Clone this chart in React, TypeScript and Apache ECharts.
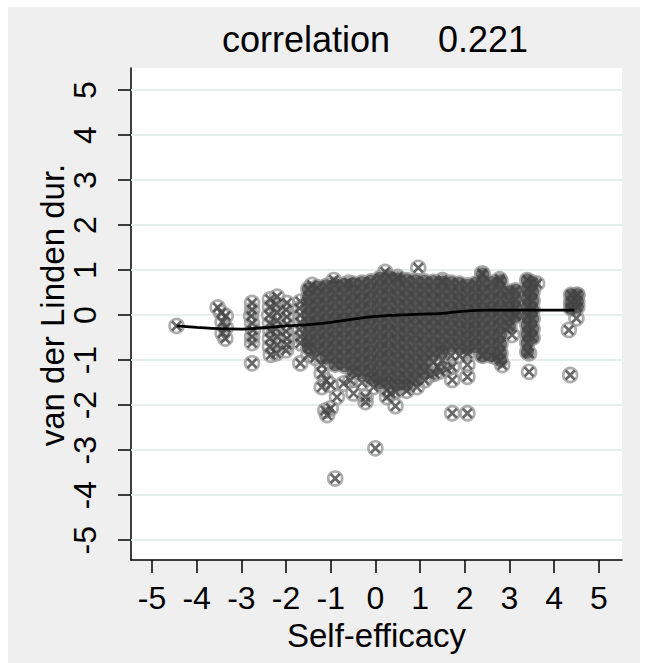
import { useEffect, useRef } from 'react';
import * as echarts from 'echarts';

const xTicks = [-5, -4, -3, -2, -1, 0, 1, 2, 3, 4, 5];
const yTicks = [-5, -4, -3, -2, -1, 0, 1, 2, 3, 4, 5];

// dense part of the cloud, read as columns: x value and the y values in it
const coreX = [-1.5, -1.3, -1.1, -0.9, -0.7, -0.5, -0.3, -0.1, 0.1, 0.3, 0.5, 0.7, 0.9, 1.1, 1.3, 1.5, 1.7, 1.88, 2.06, 2.24, 2.4, 2.6, 2.8, 3.0, 3.14, 3.4, 3.52, 4.38, 4.52];
const coreY: number[][] = [
  [0.58, 0.4, 0.2, 0.0, -0.2, -0.4, -0.6, -0.72],
  [0.62, 0.42, 0.22, 0.02, -0.18, -0.38, -0.58, -0.78],
  [0.65, 0.45, 0.25, 0.05, -0.15, -0.35, -0.55, -0.75, -0.95],
  [0.68, 0.48, 0.28, 0.08, -0.12, -0.32, -0.52, -0.72, -0.92, -1.1],
  [0.68, 0.48, 0.28, 0.08, -0.12, -0.32, -0.52, -0.72, -0.92, -1.12],
  [0.7, 0.5, 0.3, 0.1, -0.1, -0.3, -0.5, -0.7, -0.9, -1.1, -1.25],
  [0.72, 0.52, 0.32, 0.12, -0.08, -0.28, -0.48, -0.68, -0.88, -1.08, -1.28],
  [0.75, 0.55, 0.35, 0.15, -0.05, -0.25, -0.45, -0.65, -0.85, -1.05, -1.25, -1.4],
  [0.82, 0.62, 0.42, 0.22, 0.02, -0.18, -0.38, -0.58, -0.78, -0.98, -1.18, -1.38, -1.5],
  [0.85, 0.65, 0.45, 0.25, 0.05, -0.15, -0.35, -0.55, -0.75, -0.95, -1.15, -1.35, -1.5],
  [0.8, 0.6, 0.4, 0.2, 0.0, -0.2, -0.4, -0.6, -0.8, -1.0, -1.2, -1.4, -1.55],
  [0.78, 0.58, 0.38, 0.18, -0.02, -0.22, -0.42, -0.62, -0.82, -1.02, -1.22, -1.42, -1.55],
  [0.76, 0.56, 0.36, 0.16, -0.04, -0.24, -0.44, -0.64, -0.84, -1.04, -1.24, -1.44],
  [0.75, 0.55, 0.35, 0.15, -0.05, -0.25, -0.45, -0.65, -0.85, -1.05, -1.25],
  [0.74, 0.54, 0.34, 0.14, -0.06, -0.26, -0.46, -0.66, -0.86],
  [0.73, 0.53, 0.33, 0.13, -0.07, -0.27, -0.47, -0.67, -0.8],
  [0.72, 0.52, 0.32, 0.12, -0.08, -0.28, -0.48, -0.68],
  [0.7, 0.5, 0.3, 0.1, -0.1, -0.3, -0.5, -0.7],
  [0.66, 0.46, 0.26, 0.06, -0.14, -0.34, -0.54, -0.74],
  [0.7, 0.5, 0.3, 0.1, -0.1, -0.3, -0.5, -0.7],
  [0.9, 0.7, 0.5, 0.3, 0.1, -0.1, -0.3, -0.5, -0.7, -0.9],
  [0.72, 0.52, 0.32, 0.12, -0.08, -0.28, -0.48, -0.68, -0.9],
  [0.76, 0.56, 0.36, 0.16, -0.04, -0.24, -0.44, -0.64, -0.84, -1.0],
  [0.52, 0.32, 0.12, -0.08, -0.25],
  [0.55, 0.35, 0.15, -0.02],
  [0.78, 0.58, 0.38, 0.18, -0.02, -0.22, -0.42, -0.62, -0.82],
  [0.72, 0.52, 0.32, 0.12, -0.08, -0.3, -0.5],
  [0.45, 0.28, 0.15],
  [0.45, 0.3, 0.18],
];

// separate markers around and outside the dense part
const sparseX = [
  -4.45,
  -3.53, -3.45, -3.35, -3.42, -3.35, -3.42, -3.36,
  -2.76, -2.76, -2.78, -2.76, -2.74, -2.76, -2.76, -2.76,
  -2.36, -2.36, -2.38, -2.36, -2.35, -2.36, -2.36, -2.34,
  -2.2, -2.22, -2.2, -2.2, -2.22, -2.2, -2.2, -2.22,
  -1.98, -2.0, -1.98, -1.98, -2.0, -1.98, -1.98, -2.0,
  -1.68, -1.7, -1.68, -1.68, -1.7, -1.68, -1.68, -1.68,
  -1.42, -0.93, 0.22, 0.96, 2.39, 3.62, -0.6, 0.5, 1.5, 2.78,
  -1.5, -1.35, -1.2, -1.2, -1.2, -1.1, -1.0, -0.86, -0.71, -0.49, -0.56, -0.3, -0.22, -0.22, -0.04,
  0.26, 0.26, 0.34, 0.45, 0.45, 0.7, 0.93, 1.1, 1.23, 1.33, 1.45, 1.6, 1.72, 1.72,
  1.3, 1.4, 1.5, 1.7, 1.88, 2.06, 2.06, 2.06, 2.39, 2.69, 2.84, 3.06, 3.14, 3.44, 3.44,
  4.33, 4.5, 4.36, 4.52,
  -1.08, -1.0, -1.12, 0.0, -0.9, 1.72, 2.06,
];
const sparseY = [
  -0.24,
  0.17, 0.05, -0.02, -0.15, -0.28, -0.4, -0.52,
  0.27, 0.12, -0.02, -0.18, -0.33, -0.48, -0.62, -1.07,
  0.35, 0.18, 0.0, -0.18, -0.35, -0.52, -0.7, -0.88,
  0.41, 0.24, 0.06, -0.12, -0.3, -0.48, -0.66, -0.85,
  0.27, 0.12, -0.04, -0.2, -0.36, -0.52, -0.66, -0.78,
  0.3, 0.15, 0.0, -0.16, -0.32, -0.48, -0.62, -1.07,
  0.67, 0.78, 0.96, 1.05, 0.93, 0.7, 0.72, 0.85, 0.78, 0.8,
  -0.88, -0.95, -1.1, -1.3, -1.6, -1.45, -1.55, -1.82, -1.52, -1.74, -1.45, -1.5, -1.82, -1.93, -1.6,
  -1.67, -1.82, -1.74, -1.7, -2.02, -1.68, -1.6, -1.45, -1.33, -1.3, -1.25, -1.2, -1.15, -1.44,
  -1.05, -1.15, -1.0, -0.9, -0.9, -0.85, -1.1, -1.37, -0.89, -0.93, -1.11, -0.44, 0.0, -0.85, -1.26,
  -0.33, -0.07, -1.33, 0.45,
  -2.22, -2.07, -2.12, -2.96, -3.63, -2.18, -2.18,
];

// smoothed (lowess) line
const lowessX = [-4.45, -4.0, -3.5, -3.0, -2.5, -2.0, -1.5, -1.0, -0.5, 0.0, 0.5, 1.0, 1.5, 2.0, 2.5, 3.0, 3.5, 4.0, 4.45];
const lowessY = [-0.24, -0.27, -0.3, -0.31, -0.28, -0.24, -0.21, -0.16, -0.09, -0.03, 0.0, 0.02, 0.04, 0.09, 0.11, 0.11, 0.11, 0.11, 0.11];

const FONT = "'Liberation Sans', Arial, Helvetica, sans-serif";
const CROSS = 'path://M3.5,0 L10,6.5 L16.5,0 L20,3.5 L13.5,10 L20,16.5 L16.5,20 L10,13.5 L3.5,20 L0,16.5 L6.5,10 L0,3.5 Z';

export default function App() {
  const ref = useRef<HTMLDivElement>(null);
  useEffect(() => {
    if (!ref.current) return;
    const chart = echarts.init(ref.current, null, { renderer: 'svg' });
    const core: number[][] = [];
    coreX.forEach((x, i) => coreY[i].forEach((y) => core.push([x, y])));
    const sparse = sparseX.map((x, i) => [x, sparseY[i]]);
    const all = [...core, ...sparse];
    const lowess = lowessX.map((x, i) => [x, lowessY[i]]);

    chart.setOption({
      animation: false,
      backgroundColor: '#efefef',
      textStyle: { fontFamily: FONT },
      graphic: [
        { type: 'text', left: 214, top: 14, style: { text: 'correlation', fontSize: 36, fontFamily: FONT, fill: '#000' } },
        { type: 'text', left: 430, top: 14, style: { text: '0.221', fontSize: 36, fontFamily: FONT, fill: '#000' } },
        {
          type: 'text', x: 44, y: 298, rotation: Math.PI / 2,
          style: { text: 'van der Linden dur.', fontSize: 33, fontFamily: FONT, fill: '#000', align: 'center', verticalAlign: 'middle' },
        },
      ],
      grid: {
        left: 123, top: 61, right: 18, bottom: 103,
        show: true, backgroundColor: '#ffffff', borderWidth: 0,
      },
      xAxis: {
        type: 'value', min: -5.47, max: 5.52,
        name: 'Self-efficacy', nameLocation: 'middle', nameGap: 53,
        nameTextStyle: { fontSize: 33, color: '#000', fontFamily: FONT },
        axisLine: { show: true, onZero: false, lineStyle: { color: '#000', width: 1.5 } },
        axisTick: { show: true, length: 13, customValues: xTicks, lineStyle: { color: '#000', width: 1.5 } },
        axisLabel: { customValues: xTicks, fontSize: 32, color: '#000', margin: 22, fontFamily: FONT },
        splitLine: { show: false },
      },
      yAxis: {
        type: 'value', min: -5.44, max: 5.49,
        axisLine: { show: true, onZero: false, lineStyle: { color: '#000', width: 1.5 } },
        axisTick: { show: true, length: 13, customValues: yTicks, lineStyle: { color: '#000', width: 1.5 } },
        axisLabel: { customValues: yTicks, rotate: 90, fontSize: 32, color: '#000', margin: 30, fontFamily: FONT },
        splitLine: { show: false },
      },
      series: [
        {
          type: 'line', data: [], z: 1, silent: true,
          markLine: {
            silent: true, z: 1, symbol: ['none', 'none'], label: { show: false },
            lineStyle: { color: '#e6eded', width: 2, type: 'solid' },
            emphasis: { disabled: true },
            data: yTicks.map((v) => ({ yAxis: v })),
          },
        },
        {
          type: 'scatter', data: all, z: 2, silent: true,
          symbol: 'circle', symbolSize: 14,
          itemStyle: { color: 'rgba(0,0,0,0)', borderColor: '#999999', borderWidth: 2.6 },
        },
        {
          type: 'scatter', data: core, z: 3, silent: true,
          symbol: 'circle', symbolSize: 13,
          itemStyle: { color: '#4f4f4f' },
        },
        {
          type: 'scatter', data: all, z: 4, silent: true,
          symbol: CROSS, symbolSize: 11,
          itemStyle: { color: '#444444' },
        },
        {
          type: 'line', data: lowess, z: 5, silent: true, smooth: true,
          showSymbol: false, symbol: 'none',
          lineStyle: { color: '#000', width: 2.8 },
        },
      ],
    });
    return () => chart.dispose();
  }, []);
  return <div ref={ref} style={{ position: 'absolute', left: 8, top: 7, width: 632, height: 656 }} />;
}
